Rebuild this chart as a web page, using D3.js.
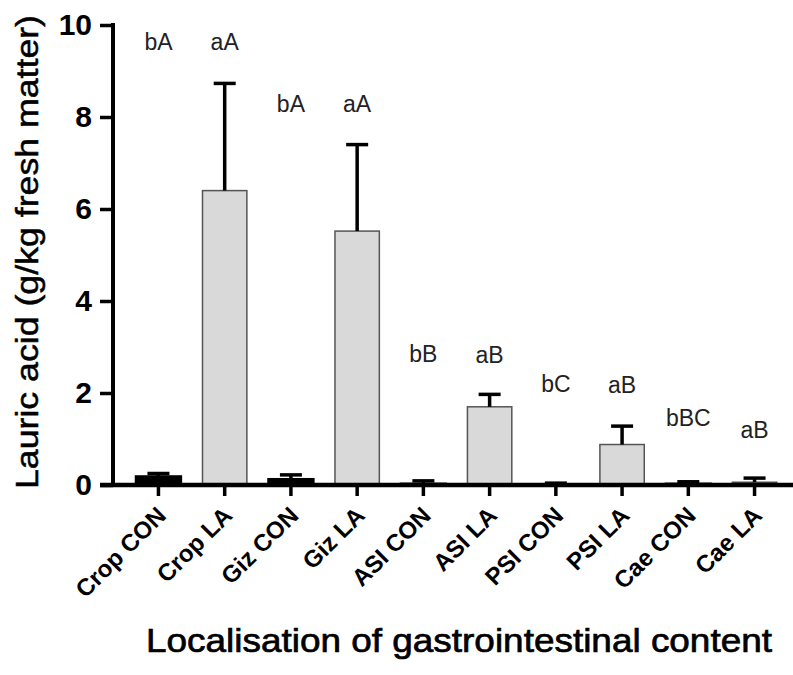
<!DOCTYPE html>
<html><head><meta charset="utf-8">
<script src="https://cdn.jsdelivr.net/npm/d3@7"></script>
<style>body{margin:0;background:#fff}svg{display:block}</style>
</head><body>
<script>
const categories = ["Crop CON","Crop LA","Giz CON","Giz LA","ASI CON","ASI LA","PSI CON","PSI LA","Cae CON","Cae LA"];
const means = [0.18, 6.40, 0.12, 5.52, 0.02, 1.70, 0.01, 0.88, 0.02, 0.06];
const errors = [0.07, 2.33, 0.10, 1.88, 0.07, 0.27, 0.03, 0.40, 0.05, 0.09];
const letters = ["bA","aA","bA","aA","bB","aB","bC","aB","bBC","aB"];
const letterValues = [9.46, 9.46, 8.11, 8.11, 2.67, 2.65, 2.02, 2.0, 1.28, 1.02];
const yTicks = [0,2,4,6,8,10];

const W=793,H=675;
const svg=d3.select("body").append("svg").attr("width",W).attr("height",H);
const y=d3.scaleLinear().domain([0,10]).range([485,25]);
const x=d3.scaleBand().domain(categories).range([125,788]).paddingInner(0.33).paddingOuter(0.17);

const isCon = d => d.endsWith("CON");
// bars
svg.selectAll("rect.bar").data(categories).enter().append("rect")
  .attr("x",d=>x(d)).attr("width",x.bandwidth())
  .attr("y",(d,i)=>y(means[i])).attr("height",(d,i)=>y(0)-y(means[i]))
  .attr("fill",d=>isCon(d)?"#000":"#d9d9d9")
  .attr("stroke",d=>isCon(d)?"#000":"#555").attr("stroke-width",d=>isCon(d)?3:1.5);
// error bars
const eg=svg.append("g").attr("stroke","#000").attr("stroke-width",3.5);
categories.forEach((c,i)=>{
  const cx=x(c)+x.bandwidth()/2;
  eg.append("line").attr("x1",cx).attr("x2",cx).attr("y1",y(means[i])).attr("y2",y(means[i]+errors[i]));
  eg.append("line").attr("x1",cx-11).attr("x2",cx+11).attr("y1",y(means[i]+errors[i])).attr("y2",y(means[i]+errors[i]));
});
// letters
svg.selectAll("text.let").data(categories).enter().append("text")
  .attr("x",d=>x(d)+x.bandwidth()/2).attr("y",(d,i)=>y(letterValues[i]))
  .attr("text-anchor","middle").attr("font-family","Liberation Sans, Arial, sans-serif")
  .attr("font-size",23).attr("fill","#222").text((d,i)=>letters[i]);

// y axis
const ya=svg.append("g").attr("transform","translate(113,0)")
  .call(d3.axisLeft(y).tickValues(yTicks).tickSize(13).tickPadding(8).tickFormat(d3.format("d")));
ya.select(".domain").attr("stroke","#000").attr("stroke-width",4).attr("d","M0,23V487");
ya.selectAll(".tick line").attr("stroke","#000").attr("stroke-width",3.5);
ya.selectAll(".tick text").attr("font-family","Liberation Sans, Arial, sans-serif").attr("font-weight","bold").attr("font-size",30).attr("fill","#000");

// x axis
const xa=svg.append("g").attr("transform","translate(0,485)")
  .call(d3.axisBottom(x).tickSize(11).tickPadding(0));
xa.select(".domain").attr("stroke","#000").attr("stroke-width",4.5).attr("d","M100,0H793");
xa.selectAll(".tick line").attr("stroke","#000").attr("stroke-width",3.5);
xa.selectAll(".tick text").attr("font-family","Liberation Sans, Arial, sans-serif").attr("font-weight","bold").attr("font-size",24).attr("fill","#000")
  .attr("text-anchor","end").attr("dy",0).attr("y",0)
  .attr("transform","translate(9,32) rotate(-45)");

// axis titles
svg.append("text").attr("transform","translate(38,252) rotate(-90)").attr("text-anchor","middle")
  .attr("font-family","Liberation Sans, Arial, sans-serif").attr("font-size",31).attr("fill","#000")
  .attr("stroke","#000").attr("stroke-width",0.5)
  .attr("textLength",474).attr("lengthAdjust","spacingAndGlyphs")
  .text("Lauric acid (g/kg fresh matter)");
svg.append("text").attr("x",459).attr("y",652).attr("text-anchor","middle")
  .attr("font-family","Liberation Sans, Arial, sans-serif").attr("font-size",34).attr("fill","#000")
  .attr("stroke","#000").attr("stroke-width",0.7)
  .attr("textLength",626).attr("lengthAdjust","spacingAndGlyphs")
  .text("Localisation of gastrointestinal content");
</script>
</body></html>
